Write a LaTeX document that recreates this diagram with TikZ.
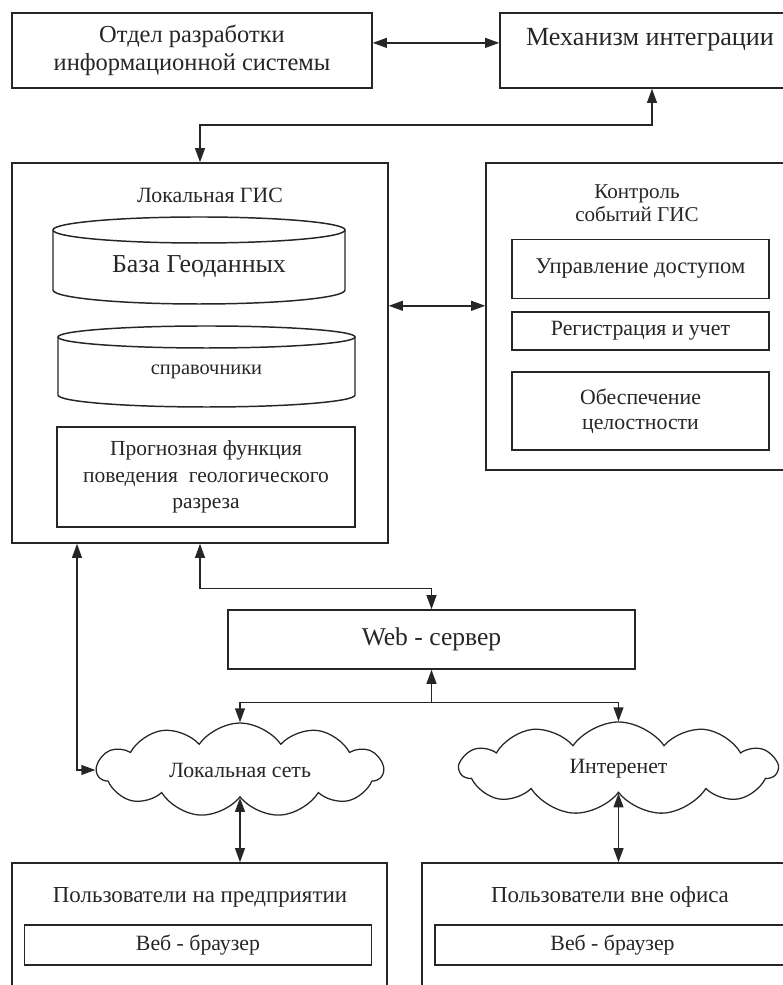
\documentclass[tikz,border=0pt]{standalone}
\usepackage{fontspec}
\setmainfont{Liberation Serif}
\usetikzlibrary{arrows.meta,shapes.symbols}
\newcommand{\bigtxt}{\fontsize{17.4}{19.5}\selectfont}
\newcommand{\midtxt}{\fontsize{15.5}{18}\selectfont}
\tikzset{
  box/.style={draw=black!85,line width=1.05pt},
  wire/.style={draw=black!85,line width=1.05pt},
  tip/.style={-{Triangle[length=10pt,width=7pt]}},
  tips/.style={{Triangle[length=10pt,width=7pt]}-{Triangle[length=10pt,width=7pt]}},
  cloudy/.style={cloud,draw=black!85,line width=0.9pt,cloud puffs=11,cloud puff arc=110,aspect=3.2,inner sep=0pt},
}

\begin{document}
\begin{tikzpicture}[text=black!85,line join=miter]
\useasboundingbox (0,0) rectangle (19.575,24.625);
% top row
\node[box,minimum width=9cm,minimum height=1.875cm,align=center,font=\bigtxt] (dev) at (4.8,23.3625) {Отдел разработки\\информационной системы};
\node[box,minimum width=7.5cm,minimum height=1.875cm,align=center,font=\fontsize{18.6}{19.5}\selectfont] (integ) at (16.25,23.3625) {Механизм интеграции\\\mbox{}};
\draw[wire,tips] ([yshift=0.19cm]dev.east) -- ([yshift=0.19cm]integ.west);
% local GIS
\node[box,minimum width=9.4cm,minimum height=9.5cm] (gis) at (5.0,15.8) {};
\node[font=\midtxt] (gistitle) at (5.25,19.75) {Локальная ГИС};
\draw[box] (4.975,18.875) ellipse [x radius=3.65, y radius=0.325];
\draw[box] (1.325,18.875) -- (1.325,17.375) arc [start angle=180, end angle=360, x radius=3.65, y radius=0.35] -- (8.625,18.875);
\node[font=\fontsize{18.4}{20}\selectfont] (db) at (4.975,17.95) {База Геоданных};
\draw[box] (5.1625,16.2) ellipse [x radius=3.7125, y radius=0.275];
\draw[box] (1.45,16.2) -- (1.45,14.75) arc [start angle=180, end angle=360, x radius=3.7125, y radius=0.3] -- (8.875,16.2);
\node[font=\fontsize{14.5}{17}\selectfont] (ref) at (5.1625,15.325) {справочники};
\node[box,minimum width=7.45cm,minimum height=2.5cm,align=center,font=\fontsize{15.3}{19}\selectfont] (fcast) at (5.15,12.7) {Прогнозная функция\\поведения\ \ геологического\\разреза};
% control
\node[box,minimum width=7.85cm,minimum height=7.675cm] (ctrl) at (16.075,16.7125) {};
\node[font=\fontsize{15}{16.5}\selectfont,align=center] (ctrltitle) at (15.925,19.55) {Контроль\\событий ГИС};
\node[box,minimum width=6.425cm,minimum height=1.475cm,font=\fontsize{16}{18}\selectfont] (acc) at (16.0125,17.9) {Управление доступом};
\node[box,minimum width=6.425cm,minimum height=0.95cm,font=\midtxt] (reg) at (16.0125,16.35) {Регистрация и учет};
\node[box,minimum width=6.425cm,minimum height=1.95cm,align=center,font=\midtxt] (integr) at (16.0125,14.35) {Обеспечение\\целостности};
\coordinate (midR) at (0,16.98);
\draw[wire,tips] (gis.east |- midR) -- (ctrl.west |- midR);
\coordinate (turnA) at (16.3,21.5);
\draw[wire,tips] (gis.north) |- (turnA) -- (turnA |- integ.south);
% web server and networks
\node[box,minimum width=10.175cm,minimum height=1.475cm,font=\fontsize{18.2}{20}\selectfont] (web) at (10.7875,8.6375) {Web - сервер};
\node[cloudy,minimum width=7.15cm,minimum height=2.35cm,font=\midtxt] (lan) at (6.0,5.375) {Локальная сеть};
\node[cloudy,minimum width=7.925cm,minimum height=2.325cm,font=\midtxt] (inet) at (15.4625,5.4125) {Интеренет};
\draw[wire,tips] (gis.south) -- ++(0,-1.125) -| (web.north);
\coordinate (lanx) at (1.925,0);
\draw[wire,tips] (gis.south -| lanx) |- (lan.west);
\coordinate (fork) at ([yshift=-0.825cm]web.south);
\draw[wire,tip] (fork) -- (web.south);
\draw[wire,tip] (fork) -| (lan.north);
\draw[wire,tip] (fork) -| (inet.north);
% users
\node[box,minimum width=9.375cm,minimum height=3.35cm] (usrL) at (4.9875,1.375) {};
\node[font=\fontsize{16.3}{19}\selectfont] (usrLtitle) at (5.0,2.2) {Пользователи на предприятии};
\node[box,minimum width=8.675cm,minimum height=1.0cm,font=\midtxt] (brwL) at (4.95,1.0) {Веб - браузер};
\node[box,minimum width=9.45cm,minimum height=3.35cm] (usrR) at (15.275,1.375) {};
\node[font=\fontsize{16.3}{19}\selectfont] (usrRtitle) at (15.25,2.2) {Пользователи вне офиса};
\node[box,minimum width=8.875cm,minimum height=1.0cm,font=\midtxt] (brwR) at (15.3125,1.0) {Веб - браузер};
\draw[wire,tips] (lan.south) -- (lan.south |- usrL.north);
\draw[wire,tips] (inet.south) -- (inet.south |- usrR.north);
\end{tikzpicture}
\end{document}
